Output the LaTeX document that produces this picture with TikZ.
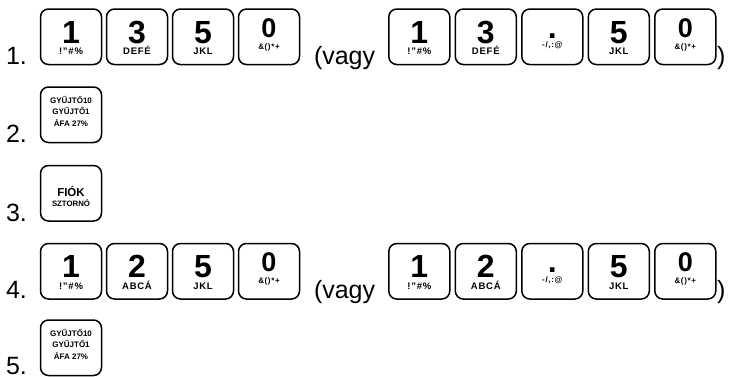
\documentclass[tikz,border=0pt]{standalone}
\usepackage{fontspec}
\setmainfont{Liberation Sans}
\usetikzlibrary{calc}
\tikzset{
  keyb/.style={draw, line width=1.5pt, rounded corners=8pt, minimum width=61pt, minimum height=55.5pt, inner sep=0pt, outer sep=0pt},
  txt/.style={anchor=base, inner sep=0pt, outer sep=0pt},
  lbl/.style={anchor=base west, inner sep=0pt, outer sep=0pt, text depth=0pt, font=\fontsize{25}{25}\selectfont},
  gy/.style={anchor=base, inner sep=0pt, outer sep=0pt, text depth=0pt, text height=5.8pt, font=\fontsize{8}{8}\selectfont\bfseries},
}
% name, left, top, digit, sub, digit offset, sub offset, digit size, sub size
\newcommand\kkey[9]{%
  \node[keyb] (#1) at (#2+30.5,#3+27.75) {};
  \node[txt, text depth=0pt, font=\fontsize{#8}{#8}\selectfont\bfseries] (#1d) at ($(#1.north)+(0,#6)$) {#4};
  \node[txt, text depth=0pt, text height=0.72*#9pt, font=\fontsize{#9}{#9}\selectfont\bfseries\addfontfeature{LetterSpace=8}] (#1s) at ($(#1.north)+(0,#7)$) {#5};
}
\newcommand\gykey[2]{%
  \node[keyb] (#1) at (71,#2+27.75) {};
  \node[gy] (#1a) at ($(#1.north)+(0,16)$) {GYŰJTŐ10};
  \node[gy] (#1b) at ($(#1.north)+(0,27.5)$) {GYŰJTŐ1};
  \node[gy] (#1c) at ($(#1.north)+(0,39)$) {ÁFA 27\%};
}
\begin{document}
\begin{tikzpicture}[x=1pt,y=-1pt]
\useasboundingbox (0,0) rectangle (733,376);
% row 1
\node[lbl] (n1) at (6,64) {1.};
\kkey{a1}{40.5}{9}{1}{!"\#\%}{34}{45.5}{32}{9.5}
\kkey{a2}{106.5}{9}{3}{DEFÉ}{34}{45.5}{32}{9.5}
\kkey{a3}{172.5}{9}{5}{JKL}{34}{45.5}{32}{9.5}
\kkey{a4}{238.5}{9}{0}{\&()*+}{28}{40}{27}{8}
\node[lbl] (v1) at (314,64) {(vagy};
\kkey{b1}{388.8}{9}{1}{!"\#\%}{34}{45.5}{32}{9.5}
\kkey{b2}{455.3}{9}{3}{DEFÉ}{34}{45.5}{32}{9.5}
\kkey{b3}{521.8}{9}{.}{-/,:@}{29}{38.5}{32}{8}
\kkey{b4}{588.3}{9}{5}{JKL}{34}{45.5}{32}{9.5}
\kkey{b5}{654.8}{9}{0}{\&()*+}{28}{40}{27}{8}
\node[lbl] (p1) at (717,64) {)};
% row 2
\node[lbl] (n2) at (6,142) {2.};
\gykey{c1}{87}
% row 3
\node[lbl] (n3) at (6,221) {3.};
\node[keyb] (d1) at (71,165.5+27.75) {};
\node[txt, text depth=0pt, font=\fontsize{11.5}{11.5}\selectfont\bfseries] (d1a) at ($(d1.north)+(0,30.5)$) {FIÓK};
\node[txt, text depth=0pt, text height=5.5pt, font=\fontsize{7.8}{7.8}\selectfont\bfseries] (d1b) at ($(d1.north)+(0,41)$) {SZTORNÓ};
% row 4
\node[lbl] (n4) at (6,298.5) {4.};
\kkey{e1}{40.5}{243.5}{1}{!"\#\%}{34}{45.5}{32}{9.5}
\kkey{e2}{106.5}{243.5}{2}{ABCÁ}{34}{45.5}{32}{9.5}
\kkey{e3}{172.5}{243.5}{5}{JKL}{34}{45.5}{32}{9.5}
\kkey{e4}{238.5}{243.5}{0}{\&()*+}{28}{40}{27}{8}
\node[lbl] (v4) at (314,298.5) {(vagy};
\kkey{f1}{388.8}{243.5}{1}{!"\#\%}{34}{45.5}{32}{9.5}
\kkey{f2}{455.3}{243.5}{2}{ABCÁ}{34}{45.5}{32}{9.5}
\kkey{f3}{521.8}{243.5}{.}{-/,:@}{29}{38.5}{32}{8}
\kkey{f4}{588.3}{243.5}{5}{JKL}{34}{45.5}{32}{9.5}
\kkey{f5}{654.8}{243.5}{0}{\&()*+}{28}{40}{27}{8}
\node[lbl] (p4) at (717,298.5) {)};
% row 5
\node[lbl] (n5) at (6,374) {5.};
\gykey{g1}{320}
\end{tikzpicture}
\end{document}
